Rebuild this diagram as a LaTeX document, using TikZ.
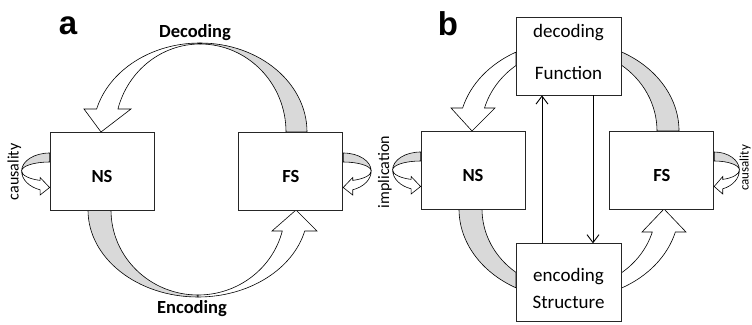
\documentclass[tikz,border=0pt]{standalone}
\usepackage{fontspec}
\setmainfont{Carlito}
\newfontfamily\panelfont{Liberation Sans}
\usetikzlibrary{positioning,arrows.meta}
\definecolor{bandgray}{RGB}{217,217,217}

\begin{document}
\begin{tikzpicture}[x=1pt, y=-1pt,
					boxnode/.style={rectangle,
					draw=black!85,
					line width=0.8pt,
					fill=white,
					minimum width=104pt,
					minimum height=78pt,
					text height=22pt,
					text depth=0pt,
					font=\fontsize{18.5}{22}\selectfont\bfseries},
					textbox/.style={rectangle,
					draw=black!85,
					line width=0.8pt,
					fill=white,
					minimum width=105pt,
					minimum height=78pt},
					boxtext/.style={anchor=base, font=\fontsize{19}{22}\selectfont},
					backband/.style={draw=black, line width=0.6pt, fill=bandgray},
					frontband/.style={draw=black, line width=0.6pt, fill=white},
					looplabel/.style={rotate=90, anchor=base, font=\fontsize{16}{19}\selectfont},
					steplabel/.style={font=\fontsize{18.5}{22}\selectfont\bfseries},
					panellabel/.style={font=\panelfont\fontsize{33}{36}\selectfont\bfseries},
					flowarrow/.style={-{Straight Barb[length=8pt,width=12pt]}, line width=0.9pt}
					]

\useasboundingbox (0,0) rectangle (752,324);
\clip (0,0) rectangle (752,324);

% panel a, big bands
\draw[backband] (200,43) arc[start angle=-90, end angle=0, x radius=107, y radius=89] -- (286,132) arc[start angle=0, end angle=-90, x radius=86, y radius=88] -- cycle;
\draw[frontband] (200,43) arc[start angle=-90, end angle=-165, x radius=107, y radius=89] -- (84,109) -- (101,132) -- (131,109) -- (117.94,109) arc[start angle=-164.85, end angle=-90, x radius=85, y radius=88] -- cycle;

\draw[backband] (88,210) arc[start angle=180, end angle=90, x radius=110, y radius=87] -- (198,295) arc[start angle=90, end angle=180, x radius=87, y radius=85] -- cycle;
\draw[frontband] (198,297) arc[start angle=90, end angle=14, x radius=110, y radius=87] -- (317,231) -- (296,210) -- (272,231) -- (282.3,231) arc[start angle=14.3, end angle=90, x radius=87, y radius=85] -- cycle;

% panel b, big bands
\draw[frontband] (516,52.1) arc[start angle=-118.8, end angle=-165.2, x radius=110, y radius=90] -- (451,108) -- (472,131) -- (495,108) -- (484.5,108) arc[start angle=-163.7, end angle=-127, x radius=88, y radius=82] -- cycle;
\draw[backband] (621,51.7) arc[start angle=-61.79, end angle=0, x radius=110, y radius=90] -- (657,131) arc[start angle=0, end angle=-53.78, x radius=88, y radius=82] -- cycle;

\draw[backband] (459,209) arc[start angle=180, end angle=118.8, x radius=110, y radius=90] -- (516,272.4) arc[start angle=127.53, end angle=180, x radius=87, y radius=80] -- cycle;
\draw[frontband] (621,288.3) arc[start angle=61.79, end angle=14.8, x radius=110, y radius=90] -- (686,232) -- (664,209) -- (642,232) -- (652.3,232) arc[start angle=16.71, end angle=53.29, x radius=87, y radius=80] -- cycle;

% panel a nodes
\node[boxnode]  (NSa) at (102,171) {NS};
\node[boxnode]  (FSa) [right=84pt of NSa] {FS};

% panel b nodes
\node[boxnode]  (NSb) at (473,170) {NS};
\node[boxnode]  (FSb) [right=84pt of NSb] {FS};
\node[textbox]  (Func) at (568.5,56) {};
\node[textbox]  (Struct) [below=148pt of Func] {};

\node[boxtext] at ([yshift=-20.5pt]Func.north) {decoding};
\node[boxtext] at ([yshift=16pt]Func.south) {Function};
\node[boxtext] at ([yshift=-38pt]Struct.north) {encoding};
\node[boxtext] at ([yshift=14pt]Struct.south) {Structure};

% self loops
\begin{scope}[shift={(NSa.west)}]
\draw[backband] (0,-18) arc[start angle=-90, end angle=-180, x radius=28, y radius=18] arc[start angle=180, end angle=270, x radius=28, y radius=9] -- cycle;
\draw[frontband] (-28,0) arc[start angle=180, end angle=109.83, x radius=28, y radius=20] -- (-9.5,24) -- (0,16.5) -- (-9.5,6.5) -- (-9.5,9.41) arc[start angle=109.83, end angle=180, x radius=28, y radius=10] -- cycle;
\end{scope}
\begin{scope}[shift={(FSa.east)}, xscale=-1]
\draw[backband] (0,-18) arc[start angle=-90, end angle=-180, x radius=28, y radius=18] arc[start angle=180, end angle=270, x radius=28, y radius=9] -- cycle;
\draw[frontband] (-28,0) arc[start angle=180, end angle=109.83, x radius=28, y radius=20] -- (-9.5,24) -- (0,16.5) -- (-9.5,6.5) -- (-9.5,9.41) arc[start angle=109.83, end angle=180, x radius=28, y radius=10] -- cycle;
\end{scope}
\begin{scope}[shift={(NSb.west)}]
\draw[backband] (0,-18) arc[start angle=-90, end angle=-180, x radius=28, y radius=18] arc[start angle=180, end angle=270, x radius=28, y radius=9] -- cycle;
\draw[frontband] (-28,0) arc[start angle=180, end angle=109.83, x radius=28, y radius=20] -- (-9.5,24) -- (0,16.5) -- (-9.5,6.5) -- (-9.5,9.41) arc[start angle=109.83, end angle=180, x radius=28, y radius=10] -- cycle;
\end{scope}
\begin{scope}[shift={(FSb.east)}, xscale=-0.9]
\draw[backband] (0,-18) arc[start angle=-90, end angle=-180, x radius=28, y radius=18] arc[start angle=180, end angle=270, x radius=28, y radius=9] -- cycle;
\draw[frontband] (-28,0) arc[start angle=180, end angle=109.83, x radius=28, y radius=20] -- (-9.5,24) -- (0,16.5) -- (-9.5,6.5) -- (-9.5,9.41) arc[start angle=109.83, end angle=180, x radius=28, y radius=10] -- cycle;
\end{scope}

% Arrows
\draw[flowarrow] ([xshift=-26.5pt]Struct.north) -- ([xshift=-26.5pt]Func.south);
\draw[flowarrow] ([xshift=24.5pt]Func.south) -- ([xshift=24.5pt]Struct.north);

% labels
\node[panellabel] at (68,26) {a};
\node[panellabel] at (448,24) {b};
\node[steplabel] at (195,32.5) {Decoding};
\node[steplabel] at (192,309) {Encoding};
\node[looplabel] at (18.5,172) {causality};
\node[looplabel] at (389,172) {implication};
\node[looplabel, font=\fontsize{13}{16}\selectfont] at (748.6,168) {causality};

\end{tikzpicture}
\end{document}
